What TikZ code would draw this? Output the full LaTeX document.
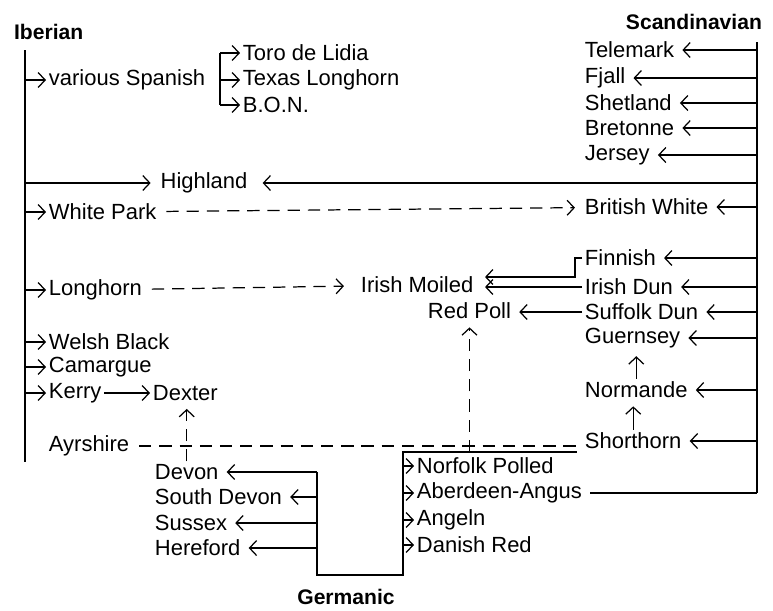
\documentclass[tikz,border=0pt]{standalone}
\usepackage{fontspec}
\setmainfont{Liberation Sans}
\usetikzlibrary{arrows.meta}

\tikzset{%
  every breed/.style={
    inner sep=1.5pt,
    font=\fontsize{12.5}{14}\selectfont
  },
  breed group/.style={
    inner sep=1pt,
    font=\fontsize{12}{14}\selectfont\bfseries
  },
  descent/.style={->, line width=0.7pt},
  cross/.style={line width=0.7pt, dash pattern=on 7pt off 4.5pt, shorten <=4pt},
  trunk/.style={line width=0.8pt},
}

\begin{document}
\begin{tikzpicture}[x=0.02cm, y=-0.02cm, >={Straight Barb[length=4pt,width=8.5pt]}]
\useasboundingbox (0,0) rectangle (773,610);

% group names
\node [breed group, anchor=west] (iberian) at (12,32) {Iberian};
\node [breed group, anchor=east] (scandinavian) at (764,22) {Scandinavian};
\node [breed group] (germanic) at (346,597) {Germanic};

% trunks
\coordinate (ib-top) at (25,50);
\coordinate (ib-bot) at (25,462);
\coordinate (sc-top) at (757,42);
\coordinate (sc-bot) at (757,493);
\draw [trunk] (ib-top) -- (ib-bot);
\draw [trunk] (sc-top) -- (sc-bot);

% Iberian side
\foreach \n/\t/\y in {spanish/various Spanish/80, whitepark/White Park/212,
    longhorn/Longhorn/290, welshblack/Welsh Black/342, camargue/Camargue/367,
    kerry/Kerry/393}
  {\node [every breed/.try, anchor=west] (\n) at (46,\y) {\t};
   \draw [descent] (ib-top |- \n.west) -- (\n.west);}
\node [every breed/.try, anchor=west] (ayrshire) at (46,446) {Ayrshire};
\node [every breed/.try, anchor=west] (dexter) at (150,393) {Dexter};
\draw [descent] (kerry) -- (dexter);

% Spanish offshoots
\coordinate (sp-top) at (220,53);
\coordinate (sp-bot) at (220,105);
\draw [line width=0.7pt] (sp-top) -- (sp-bot);
\foreach \n/\t/\y in {toro/Toro de Lidia/53, texas/Texas Longhorn/80, bon/B.O.N./105}
  {\node [every breed/.try, anchor=west] (\n) at (240,\y) {\t};
   \draw [descent] (sp-top |- \n.west) -- (\n.west);}

% Scandinavian side
\foreach \n/\t/\y in {telemark/Telemark/50, fjall/Fjall/78, shetland/Shetland/103,
    bretonne/Bretonne/128, jersey/Jersey/155, britishwhite/British White/207,
    finnish/Finnish/258, irishdun/Irish Dun/287, suffolkdun/Suffolk Dun/312,
    guernsey/Guernsey/338, normande/Normande/390, shorthorn/Shorthorn/441}
  {\node [every breed/.try, anchor=west] (\n) at (582,\y) {\t};
   \draw [descent, shorten >=3pt] (sc-top |- \n.east) -- (\n.east);}

% Highland, fed from both sides
\node [every breed/.try] (highland) at (204,183) {Highland};
\draw [descent, shorten >=4pt] (ib-top |- highland.west) -- (highland.west);
\draw [descent, shorten >=7pt] (sc-top |- highland.east) -- (highland.east);

% middle
\node [every breed/.try, anchor=west] (irishmoiled) at (358,285) {Irish Moiled};
\node [every breed/.try, anchor=west] (redpoll) at (425,311) {Red Poll};

\draw [cross, ->, shorten >=4pt] (whitepark) -- (britishwhite);
\draw [cross, ->, shorten >=8pt] (longhorn) -- (irishmoiled);
\coordinate (fin-turn) at (575,277);
\draw [descent, shorten >=5pt] (finnish.west) -| (fin-turn) -- (fin-turn -| irishmoiled.east);
\draw [descent, shorten >=5pt] (irishdun.west) -- (irishdun.west -| irishmoiled.east);
\draw [descent, shorten >=3pt] (suffolkdun.west) -- (suffolkdun.west -| redpoll.east);
\draw [descent, shorten >=3pt] (normande.north) -- (normande.north |- guernsey.south);
\draw [descent, shorten >=3pt] (shorthorn.north) -- (shorthorn.north |- normande.south);
\draw [cross] (ayrshire.east) -- (ayrshire.east -| shorthorn.west);

% Germanic side
\coordinate (gm-left) at (317,472);
\coordinate (gm-lb) at (317,575);
\coordinate (gm-rb) at (403,575);
\coordinate (gm-top) at (403,452);
\coordinate (gm-end) at (577,452);
\draw [trunk] (gm-left) -- (gm-lb) -- (gm-rb) -- (gm-top) -- (gm-end);

\foreach \n/\t/\y in {devon/Devon/472, southdevon/South Devon/497,
    sussex/Sussex/523, hereford/Hereford/548}
  {\node [every breed/.try, anchor=west] (\n) at (152,\y) {\t};
   \draw [descent, shorten >=3pt] (gm-left |- \n.east) -- (\n.east);}

\foreach \n/\t/\y in {norfolk/Norfolk Polled/466, aberdeen/Aberdeen-Angus/493,
    angeln/Angeln/520, danishred/Danish Red/545}
  {\node [every breed/.try, anchor=west] (\n) at (414,\y) {\t};
   \draw [descent] (gm-top |- \n.west) -- (\n.west);}

\draw [line width=0.7pt, shorten <=3pt] (aberdeen.east) -- (aberdeen.east -| sc-bot);
\draw [cross, ->, shorten <=0pt, shorten >=3pt] (redpoll.south |- gm-top) -- (redpoll.south);
\draw [cross, ->, shorten <=0pt, shorten >=3pt] (devon.north) -- (devon.north |- dexter.south);

\end{tikzpicture}
\end{document}
